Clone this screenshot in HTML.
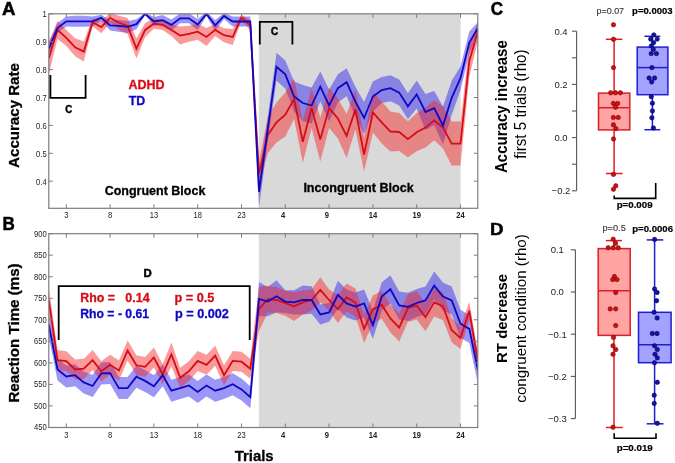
<!DOCTYPE html>
<html><head><meta charset="utf-8"><style>
html,body{margin:0;padding:0;background:#fff;width:675px;height:463px;overflow:hidden}
svg{display:block;filter:blur(0.35px);font-family:"Liberation Sans", sans-serif}
</style></head><body>
<svg width="675" height="463" viewBox="0 0 675 463">
<defs><clipPath id="ca"><rect x="48.8" y="13.8" width="429.0" height="194.5"/></clipPath>
<clipPath id="cb"><rect x="48.8" y="233.7" width="429.0" height="193.8"/></clipPath></defs>
<rect x="258.8" y="13.8" width="201.8" height="194.5" fill="#d9d9d9"/>
<rect x="258.8" y="233.7" width="201.8" height="193.8" fill="#d9d9d9"/>
<polygon points="48.8,42.6 57.5,23.1 66.3,16.4 75.1,15.8 83.8,15.8 92.6,16.4 101.3,14.8 110.1,20.4 118.9,19.8 127.6,20.9 136.4,19.2 145.1,12.9 153.9,17.0 162.7,15.1 171.4,19.4 180.2,13.3 188.9,13.3 197.7,19.1 206.5,11.9 215.2,19.9 224.0,13.0 232.7,16.5 241.5,16.5 250.3,16.5 259.0,175.8 267.8,117.0 276.5,52.7 285.3,60.4 294.1,81.5 302.8,85.0 311.6,87.5 320.3,71.6 329.1,89.5 337.9,74.2 346.6,68.2 355.4,86.7 364.1,102.0 372.9,81.5 381.7,77.0 390.4,75.2 399.2,79.6 407.9,93.3 416.7,80.4 425.5,94.0 434.2,91.1 443.0,106.5 451.7,80.8 460.5,66.2 469.3,31.5 478.0,21.9 478.0,33.9 469.3,53.5 460.5,90.2 451.7,114.8 443.0,144.5 434.2,125.1 425.5,130.0 416.7,108.4 407.9,119.3 399.2,105.6 390.4,101.2 381.7,103.0 372.9,111.5 364.1,134.0 355.4,116.7 346.6,96.2 337.9,102.2 329.1,121.5 320.3,101.6 311.6,123.5 302.8,121.0 294.1,111.5 285.3,88.4 276.5,80.7 267.8,141.0 259.0,207.8 250.3,26.5 241.5,26.5 232.7,26.5 224.0,19.0 215.2,30.9 206.5,15.9 197.7,30.1 188.9,23.3 180.2,23.3 171.4,30.4 162.7,25.1 153.9,26.0 145.1,14.9 136.4,29.2 127.6,32.9 118.9,31.8 110.1,30.4 101.3,20.8 92.6,26.4 83.8,26.8 75.1,26.8 66.3,26.4 57.5,33.1 48.8,54.6" fill="#3a30f0" fill-opacity="0.5" clip-path="url(#ca)"/>
<polygon points="48.8,42.3 57.5,20.9 66.3,29.9 75.1,38.3 83.8,41.6 92.6,18.2 101.3,21.2 110.1,12.8 118.9,15.8 127.6,18.0 136.4,38.6 145.1,22.9 153.9,18.7 162.7,19.9 171.4,23.9 180.2,26.6 188.9,25.8 197.7,23.7 206.5,28.0 215.2,23.9 224.0,28.2 232.7,29.0 241.5,14.4 250.3,20.4 259.0,161.6 267.8,117.0 276.5,102.4 285.3,92.6 294.1,79.0 302.8,120.8 311.6,88.1 320.3,117.6 329.1,88.1 337.9,98.5 346.6,114.0 355.4,89.4 364.1,137.5 372.9,92.5 381.7,101.4 390.4,111.5 399.2,113.0 407.9,121.2 416.7,113.2 425.5,107.6 434.2,100.3 443.0,106.6 451.7,121.6 460.5,121.6 469.3,45.0 478.0,22.0 478.0,40.0 469.3,77.0 460.5,165.6 451.7,165.6 443.0,148.6 434.2,140.3 425.5,147.6 416.7,151.2 407.9,157.2 399.2,151.0 390.4,151.5 381.7,143.4 372.9,132.5 364.1,171.5 355.4,129.4 346.6,158.0 337.9,138.5 329.1,128.1 320.3,161.6 311.6,128.1 302.8,162.8 294.1,119.0 285.3,136.6 276.5,142.4 267.8,153.0 259.0,185.6 250.3,30.4 241.5,20.4 232.7,45.0 224.0,42.2 215.2,35.9 206.5,46.0 197.7,39.7 188.9,41.8 180.2,44.6 171.4,35.9 162.7,29.9 153.9,28.7 145.1,36.9 136.4,58.6 127.6,34.0 118.9,29.8 110.1,22.8 101.3,33.2 92.6,26.2 83.8,61.6 75.1,56.3 66.3,45.9 57.5,38.9 48.8,74.3" fill="#f52020" fill-opacity="0.45" clip-path="url(#ca)"/>
<polyline points="48.8,58.3 57.5,29.9 66.3,37.9 75.1,47.3 83.8,51.6 92.6,22.2 101.3,27.2 110.1,17.8 118.9,22.8 127.6,26.0 136.4,48.6 145.1,29.9 153.9,23.7 162.7,24.9 171.4,29.9 180.2,35.6 188.9,33.8 197.7,31.7 206.5,37.0 215.2,29.9 224.0,35.2 232.7,37.0 241.5,17.4 250.3,25.4 259.0,173.6 267.8,135.0 276.5,122.4 285.3,114.6 294.1,99.0 302.8,141.8 311.6,108.1 320.3,139.6 329.1,108.1 337.9,118.5 346.6,136.0 355.4,109.4 364.1,154.5 372.9,112.5 381.7,122.4 390.4,131.5 399.2,132.0 407.9,139.2 416.7,132.2 425.5,127.6 434.2,120.3 443.0,127.6 451.7,143.6 460.5,143.6 469.3,61.0 478.0,31.0" fill="none" stroke="#d80c16" stroke-width="1.8" stroke-linejoin="miter" stroke-miterlimit="3" clip-path="url(#ca)"/>
<polyline points="48.8,48.6 57.5,28.1 66.3,21.4 75.1,21.3 83.8,21.3 92.6,21.4 101.3,17.8 110.1,25.4 118.9,25.8 127.6,26.9 136.4,24.2 145.1,13.9 153.9,21.5 162.7,20.1 171.4,24.9 180.2,18.3 188.9,18.3 197.7,24.6 206.5,13.9 215.2,25.4 224.0,16.0 232.7,21.5 241.5,21.5 250.3,21.5 259.0,191.8 267.8,129.0 276.5,66.7 285.3,74.4 294.1,96.5 302.8,103.0 311.6,105.5 320.3,86.6 329.1,105.5 337.9,88.2 346.6,82.2 355.4,101.7 364.1,118.0 372.9,96.5 381.7,90.0 390.4,88.2 399.2,92.6 407.9,106.3 416.7,94.4 425.5,112.0 434.2,108.1 443.0,125.5 451.7,97.8 460.5,78.2 469.3,42.5 478.0,27.9" fill="none" stroke="#0e08c4" stroke-width="1.8" stroke-linejoin="miter" stroke-miterlimit="3" clip-path="url(#ca)"/>
<polygon points="48.8,312.6 57.5,358.5 66.3,365.5 75.1,364.2 83.8,371.4 92.6,375.0 101.3,362.4 110.1,362.1 118.9,377.1 127.6,377.1 136.4,365.7 145.1,369.9 153.9,375.3 162.7,364.2 171.4,379.7 180.2,377.1 188.9,374.5 197.7,381.0 206.5,374.5 215.2,379.7 224.0,377.1 232.7,373.2 241.5,378.4 250.3,386.2 259.0,282.0 267.8,287.0 276.5,280.2 285.3,290.2 294.1,290.2 302.8,285.4 311.6,286.2 320.3,304.5 329.1,303.1 337.9,280.8 346.6,289.4 355.4,292.5 364.1,289.5 372.9,311.0 381.7,282.5 390.4,275.2 399.2,291.5 407.9,292.8 416.7,289.0 425.5,286.4 434.2,271.6 443.0,282.5 451.7,286.4 460.5,309.7 469.3,314.9 478.0,356.5 478.0,384.5 469.3,342.9 460.5,337.7 451.7,314.4 443.0,310.5 434.2,299.6 425.5,314.4 416.7,317.0 407.9,320.8 399.2,319.5 390.4,303.2 381.7,310.5 372.9,339.0 364.1,317.5 355.4,320.5 346.6,317.4 337.9,308.8 329.1,321.7 320.3,324.5 311.6,313.8 302.8,314.6 294.1,314.6 285.3,313.0 276.5,312.2 267.8,316.2 259.0,316.0 250.3,408.2 241.5,400.4 232.7,395.2 224.0,399.1 215.2,401.7 206.5,396.5 197.7,403.0 188.9,396.5 180.2,399.1 171.4,401.7 162.7,386.2 153.9,397.3 145.1,391.9 136.4,387.7 127.6,399.1 118.9,399.1 110.1,384.1 101.3,384.4 92.6,397.0 83.8,393.4 75.1,386.2 66.3,387.5 57.5,380.5 48.8,336.6" fill="#3a30f0" fill-opacity="0.5" clip-path="url(#cb)"/>
<polygon points="48.8,288.0 57.5,350.1 66.3,351.2 75.1,359.5 83.8,358.7 92.6,350.1 101.3,361.3 110.1,354.8 118.9,360.5 127.6,340.5 136.4,355.3 145.1,356.9 153.9,347.5 162.7,364.3 171.4,342.4 180.2,367.8 188.9,361.3 197.7,350.9 206.5,354.8 215.2,345.7 224.0,365.2 232.7,350.9 241.5,351.7 250.3,358.7 259.0,286.9 267.8,285.7 276.5,287.0 285.3,290.7 294.1,291.9 302.8,290.4 311.6,289.5 320.3,277.3 329.1,289.5 337.9,295.1 346.6,283.4 355.4,288.6 364.1,314.7 372.9,295.4 381.7,290.8 390.4,304.5 399.2,313.6 407.9,294.1 416.7,291.5 425.5,303.2 434.2,288.4 443.0,292.3 451.7,318.2 460.5,327.0 469.3,301.7 478.0,353.5 478.0,369.5 469.3,319.7 460.5,349.0 451.7,342.2 443.0,320.3 434.2,316.4 425.5,331.2 416.7,319.5 407.9,322.1 399.2,341.6 390.4,332.5 381.7,318.8 372.9,323.4 364.1,342.7 355.4,316.6 346.6,311.4 337.9,323.1 329.1,310.5 320.3,302.3 311.6,310.5 302.8,314.4 294.1,320.9 285.3,315.7 276.5,313.0 267.8,312.5 259.0,330.9 250.3,378.7 241.5,371.7 232.7,370.9 224.0,385.2 215.2,365.7 206.5,374.8 197.7,370.9 188.9,381.3 180.2,387.8 171.4,366.4 162.7,384.3 153.9,367.5 145.1,376.9 136.4,375.3 127.6,360.5 118.9,380.5 110.1,374.8 101.3,381.3 92.6,370.1 83.8,378.7 75.1,379.5 66.3,371.2 57.5,370.1 48.8,312.0" fill="#f52020" fill-opacity="0.45" clip-path="url(#cb)"/>
<polyline points="48.8,300.0 57.5,360.1 66.3,361.2 75.1,369.5 83.8,368.7 92.6,360.1 101.3,371.3 110.1,364.8 118.9,370.5 127.6,350.5 136.4,365.3 145.1,366.9 153.9,357.5 162.7,374.3 171.4,354.4 180.2,377.8 188.9,371.3 197.7,360.9 206.5,364.8 215.2,355.7 224.0,375.2 232.7,360.9 241.5,361.7 250.3,368.7 259.0,308.9 267.8,299.1 276.5,300.0 285.3,303.2 294.1,306.4 302.8,302.4 311.6,300.0 320.3,289.8 329.1,300.0 337.9,309.1 346.6,297.4 355.4,302.6 364.1,328.7 372.9,309.4 381.7,304.8 390.4,318.5 399.2,327.6 407.9,308.1 416.7,305.5 425.5,317.2 434.2,302.4 443.0,306.3 451.7,330.2 460.5,338.0 469.3,310.7 478.0,361.5" fill="none" stroke="#d80c16" stroke-width="1.8" stroke-linejoin="miter" stroke-miterlimit="3" clip-path="url(#cb)"/>
<polyline points="48.8,324.6 57.5,369.5 66.3,376.5 75.1,375.2 83.8,382.4 92.6,386.0 101.3,373.4 110.1,373.1 118.9,388.1 127.6,388.1 136.4,376.7 145.1,380.9 153.9,386.3 162.7,375.2 171.4,390.7 180.2,388.1 188.9,385.5 197.7,392.0 206.5,385.5 215.2,390.7 224.0,388.1 232.7,384.2 241.5,389.4 250.3,397.2 259.0,299.0 267.8,301.6 276.5,296.2 285.3,301.6 294.1,302.4 302.8,300.0 311.6,300.0 320.3,314.5 329.1,312.4 337.9,294.8 346.6,303.4 355.4,306.5 364.1,303.5 372.9,325.0 381.7,296.5 390.4,289.2 399.2,305.5 407.9,306.8 416.7,303.0 425.5,300.4 434.2,285.6 443.0,296.5 451.7,300.4 460.5,323.7 469.3,328.9 478.0,370.5" fill="none" stroke="#0e08c4" stroke-width="1.8" stroke-linejoin="miter" stroke-miterlimit="3" clip-path="url(#cb)"/>
<rect x="48.8" y="13.8" width="429.0" height="194.5" fill="none" stroke="#7d7d7d" stroke-width="1.2"/>
<rect x="48.8" y="233.7" width="429.0" height="193.8" fill="none" stroke="#7d7d7d" stroke-width="1.2"/>
<line x1="66.3" y1="208.3" x2="66.3" y2="204.3" stroke="#7d7d7d" stroke-width="1"/>
<line x1="66.3" y1="13.8" x2="66.3" y2="17.8" stroke="#7d7d7d" stroke-width="1"/>
<line x1="110.1" y1="208.3" x2="110.1" y2="204.3" stroke="#7d7d7d" stroke-width="1"/>
<line x1="110.1" y1="13.8" x2="110.1" y2="17.8" stroke="#7d7d7d" stroke-width="1"/>
<line x1="153.9" y1="208.3" x2="153.9" y2="204.3" stroke="#7d7d7d" stroke-width="1"/>
<line x1="153.9" y1="13.8" x2="153.9" y2="17.8" stroke="#7d7d7d" stroke-width="1"/>
<line x1="197.7" y1="208.3" x2="197.7" y2="204.3" stroke="#7d7d7d" stroke-width="1"/>
<line x1="197.7" y1="13.8" x2="197.7" y2="17.8" stroke="#7d7d7d" stroke-width="1"/>
<line x1="241.5" y1="208.3" x2="241.5" y2="204.3" stroke="#7d7d7d" stroke-width="1"/>
<line x1="241.5" y1="13.8" x2="241.5" y2="17.8" stroke="#7d7d7d" stroke-width="1"/>
<line x1="285.3" y1="208.3" x2="285.3" y2="204.3" stroke="#7d7d7d" stroke-width="1"/>
<line x1="285.3" y1="13.8" x2="285.3" y2="17.8" stroke="#7d7d7d" stroke-width="1"/>
<line x1="329.1" y1="208.3" x2="329.1" y2="204.3" stroke="#7d7d7d" stroke-width="1"/>
<line x1="329.1" y1="13.8" x2="329.1" y2="17.8" stroke="#7d7d7d" stroke-width="1"/>
<line x1="372.9" y1="208.3" x2="372.9" y2="204.3" stroke="#7d7d7d" stroke-width="1"/>
<line x1="372.9" y1="13.8" x2="372.9" y2="17.8" stroke="#7d7d7d" stroke-width="1"/>
<line x1="416.7" y1="208.3" x2="416.7" y2="204.3" stroke="#7d7d7d" stroke-width="1"/>
<line x1="416.7" y1="13.8" x2="416.7" y2="17.8" stroke="#7d7d7d" stroke-width="1"/>
<line x1="460.5" y1="208.3" x2="460.5" y2="204.3" stroke="#7d7d7d" stroke-width="1"/>
<line x1="460.5" y1="13.8" x2="460.5" y2="17.8" stroke="#7d7d7d" stroke-width="1"/>
<text transform="translate(66.30,217.90) scale(0.93,1)" font-size="8.2" text-anchor="middle" fill="#222">3</text>
<text transform="translate(110.10,217.90) scale(0.93,1)" font-size="8.2" text-anchor="middle" fill="#222">8</text>
<text transform="translate(153.90,217.90) scale(0.93,1)" font-size="8.2" text-anchor="middle" fill="#222">13</text>
<text transform="translate(197.70,217.90) scale(0.93,1)" font-size="8.2" text-anchor="middle" fill="#222">18</text>
<text transform="translate(241.50,217.90) scale(0.93,1)" font-size="8.2" text-anchor="middle" fill="#222">23</text>
<text transform="translate(283.10,217.90) scale(0.93,1)" font-size="8.2" text-anchor="middle" fill="#222" font-weight="bold">4</text>
<text transform="translate(326.90,217.90) scale(0.93,1)" font-size="8.2" text-anchor="middle" fill="#222" font-weight="bold">9</text>
<text transform="translate(372.90,217.90) scale(0.93,1)" font-size="8.2" text-anchor="middle" fill="#222" font-weight="bold">14</text>
<text transform="translate(416.70,217.90) scale(0.93,1)" font-size="8.2" text-anchor="middle" fill="#222" font-weight="bold">19</text>
<text transform="translate(460.50,217.90) scale(0.93,1)" font-size="8.2" text-anchor="middle" fill="#222" font-weight="bold">24</text>
<line x1="66.3" y1="427.5" x2="66.3" y2="423.5" stroke="#7d7d7d" stroke-width="1"/>
<line x1="66.3" y1="233.7" x2="66.3" y2="237.7" stroke="#7d7d7d" stroke-width="1"/>
<line x1="110.1" y1="427.5" x2="110.1" y2="423.5" stroke="#7d7d7d" stroke-width="1"/>
<line x1="110.1" y1="233.7" x2="110.1" y2="237.7" stroke="#7d7d7d" stroke-width="1"/>
<line x1="153.9" y1="427.5" x2="153.9" y2="423.5" stroke="#7d7d7d" stroke-width="1"/>
<line x1="153.9" y1="233.7" x2="153.9" y2="237.7" stroke="#7d7d7d" stroke-width="1"/>
<line x1="197.7" y1="427.5" x2="197.7" y2="423.5" stroke="#7d7d7d" stroke-width="1"/>
<line x1="197.7" y1="233.7" x2="197.7" y2="237.7" stroke="#7d7d7d" stroke-width="1"/>
<line x1="241.5" y1="427.5" x2="241.5" y2="423.5" stroke="#7d7d7d" stroke-width="1"/>
<line x1="241.5" y1="233.7" x2="241.5" y2="237.7" stroke="#7d7d7d" stroke-width="1"/>
<line x1="285.3" y1="427.5" x2="285.3" y2="423.5" stroke="#7d7d7d" stroke-width="1"/>
<line x1="285.3" y1="233.7" x2="285.3" y2="237.7" stroke="#7d7d7d" stroke-width="1"/>
<line x1="329.1" y1="427.5" x2="329.1" y2="423.5" stroke="#7d7d7d" stroke-width="1"/>
<line x1="329.1" y1="233.7" x2="329.1" y2="237.7" stroke="#7d7d7d" stroke-width="1"/>
<line x1="372.9" y1="427.5" x2="372.9" y2="423.5" stroke="#7d7d7d" stroke-width="1"/>
<line x1="372.9" y1="233.7" x2="372.9" y2="237.7" stroke="#7d7d7d" stroke-width="1"/>
<line x1="416.7" y1="427.5" x2="416.7" y2="423.5" stroke="#7d7d7d" stroke-width="1"/>
<line x1="416.7" y1="233.7" x2="416.7" y2="237.7" stroke="#7d7d7d" stroke-width="1"/>
<line x1="460.5" y1="427.5" x2="460.5" y2="423.5" stroke="#7d7d7d" stroke-width="1"/>
<line x1="460.5" y1="233.7" x2="460.5" y2="237.7" stroke="#7d7d7d" stroke-width="1"/>
<text transform="translate(66.30,438.00) scale(0.93,1)" font-size="8.2" text-anchor="middle" fill="#222">3</text>
<text transform="translate(110.10,438.00) scale(0.93,1)" font-size="8.2" text-anchor="middle" fill="#222">8</text>
<text transform="translate(153.90,438.00) scale(0.93,1)" font-size="8.2" text-anchor="middle" fill="#222">13</text>
<text transform="translate(197.70,438.00) scale(0.93,1)" font-size="8.2" text-anchor="middle" fill="#222">18</text>
<text transform="translate(241.50,438.00) scale(0.93,1)" font-size="8.2" text-anchor="middle" fill="#222">23</text>
<text transform="translate(283.10,438.00) scale(0.93,1)" font-size="8.2" text-anchor="middle" fill="#222" font-weight="bold">4</text>
<text transform="translate(326.90,438.00) scale(0.93,1)" font-size="8.2" text-anchor="middle" fill="#222" font-weight="bold">9</text>
<text transform="translate(372.90,438.00) scale(0.93,1)" font-size="8.2" text-anchor="middle" fill="#222" font-weight="bold">14</text>
<text transform="translate(416.70,438.00) scale(0.93,1)" font-size="8.2" text-anchor="middle" fill="#222" font-weight="bold">19</text>
<text transform="translate(460.50,438.00) scale(0.93,1)" font-size="8.2" text-anchor="middle" fill="#222" font-weight="bold">24</text>
<line x1="48.8" y1="13.8" x2="52.8" y2="13.8" stroke="#7d7d7d"/>
<line x1="477.8" y1="13.8" x2="473.8" y2="13.8" stroke="#7d7d7d"/>
<text transform="translate(46.70,17.20) scale(0.93,1)" font-size="8.2" text-anchor="end" fill="#222">1</text>
<line x1="48.8" y1="41.7" x2="52.8" y2="41.7" stroke="#7d7d7d"/>
<line x1="477.8" y1="41.7" x2="473.8" y2="41.7" stroke="#7d7d7d"/>
<text transform="translate(46.70,45.10) scale(0.93,1)" font-size="8.2" text-anchor="end" fill="#222">0.9</text>
<line x1="48.8" y1="69.6" x2="52.8" y2="69.6" stroke="#7d7d7d"/>
<line x1="477.8" y1="69.6" x2="473.8" y2="69.6" stroke="#7d7d7d"/>
<text transform="translate(46.70,73.00) scale(0.93,1)" font-size="8.2" text-anchor="end" fill="#222">0.8</text>
<line x1="48.8" y1="97.5" x2="52.8" y2="97.5" stroke="#7d7d7d"/>
<line x1="477.8" y1="97.5" x2="473.8" y2="97.5" stroke="#7d7d7d"/>
<text transform="translate(46.70,100.90) scale(0.93,1)" font-size="8.2" text-anchor="end" fill="#222">0.7</text>
<line x1="48.8" y1="125.4" x2="52.8" y2="125.4" stroke="#7d7d7d"/>
<line x1="477.8" y1="125.4" x2="473.8" y2="125.4" stroke="#7d7d7d"/>
<text transform="translate(46.70,128.80) scale(0.93,1)" font-size="8.2" text-anchor="end" fill="#222">0.6</text>
<line x1="48.8" y1="153.3" x2="52.8" y2="153.3" stroke="#7d7d7d"/>
<line x1="477.8" y1="153.3" x2="473.8" y2="153.3" stroke="#7d7d7d"/>
<text transform="translate(46.70,156.70) scale(0.93,1)" font-size="8.2" text-anchor="end" fill="#222">0.5</text>
<line x1="48.8" y1="181.2" x2="52.8" y2="181.2" stroke="#7d7d7d"/>
<line x1="477.8" y1="181.2" x2="473.8" y2="181.2" stroke="#7d7d7d"/>
<text transform="translate(46.70,184.60) scale(0.93,1)" font-size="8.2" text-anchor="end" fill="#222">0.4</text>
<line x1="48.8" y1="233.7" x2="52.8" y2="233.7" stroke="#7d7d7d"/>
<line x1="477.8" y1="233.7" x2="473.8" y2="233.7" stroke="#7d7d7d"/>
<text transform="translate(46.70,236.60) scale(0.93,1)" font-size="8.2" text-anchor="end" fill="#222">900</text>
<line x1="48.8" y1="255.2" x2="52.8" y2="255.2" stroke="#7d7d7d"/>
<line x1="477.8" y1="255.2" x2="473.8" y2="255.2" stroke="#7d7d7d"/>
<text transform="translate(46.70,258.13) scale(0.93,1)" font-size="8.2" text-anchor="end" fill="#222">850</text>
<line x1="48.8" y1="276.8" x2="52.8" y2="276.8" stroke="#7d7d7d"/>
<line x1="477.8" y1="276.8" x2="473.8" y2="276.8" stroke="#7d7d7d"/>
<text transform="translate(46.70,279.66) scale(0.93,1)" font-size="8.2" text-anchor="end" fill="#222">800</text>
<line x1="48.8" y1="298.3" x2="52.8" y2="298.3" stroke="#7d7d7d"/>
<line x1="477.8" y1="298.3" x2="473.8" y2="298.3" stroke="#7d7d7d"/>
<text transform="translate(46.70,301.19) scale(0.93,1)" font-size="8.2" text-anchor="end" fill="#222">750</text>
<line x1="48.8" y1="319.8" x2="52.8" y2="319.8" stroke="#7d7d7d"/>
<line x1="477.8" y1="319.8" x2="473.8" y2="319.8" stroke="#7d7d7d"/>
<text transform="translate(46.70,322.72) scale(0.93,1)" font-size="8.2" text-anchor="end" fill="#222">700</text>
<line x1="48.8" y1="341.4" x2="52.8" y2="341.4" stroke="#7d7d7d"/>
<line x1="477.8" y1="341.4" x2="473.8" y2="341.4" stroke="#7d7d7d"/>
<text transform="translate(46.70,344.25) scale(0.93,1)" font-size="8.2" text-anchor="end" fill="#222">650</text>
<line x1="48.8" y1="362.9" x2="52.8" y2="362.9" stroke="#7d7d7d"/>
<line x1="477.8" y1="362.9" x2="473.8" y2="362.9" stroke="#7d7d7d"/>
<text transform="translate(46.70,365.78) scale(0.93,1)" font-size="8.2" text-anchor="end" fill="#222">600</text>
<line x1="48.8" y1="384.4" x2="52.8" y2="384.4" stroke="#7d7d7d"/>
<line x1="477.8" y1="384.4" x2="473.8" y2="384.4" stroke="#7d7d7d"/>
<text transform="translate(46.70,387.31) scale(0.93,1)" font-size="8.2" text-anchor="end" fill="#222">550</text>
<line x1="48.8" y1="405.9" x2="52.8" y2="405.9" stroke="#7d7d7d"/>
<line x1="477.8" y1="405.9" x2="473.8" y2="405.9" stroke="#7d7d7d"/>
<text transform="translate(46.70,408.84) scale(0.93,1)" font-size="8.2" text-anchor="end" fill="#222">500</text>
<line x1="48.8" y1="427.5" x2="52.8" y2="427.5" stroke="#7d7d7d"/>
<line x1="477.8" y1="427.5" x2="473.8" y2="427.5" stroke="#7d7d7d"/>
<text transform="translate(46.70,430.37) scale(0.93,1)" font-size="8.2" text-anchor="end" fill="#222">450</text>
<path d="M50.4,74.9 V97.8 H85.6 V74.9" fill="none" stroke="#000" stroke-width="1.8"/>
<text transform="translate(65.32,113.00) scale(0.8849,1)" font-size="10.87" font-weight="bold" fill="#000" stroke="#000" stroke-width="0.5" xml:space="preserve">C</text>
<path d="M259.8,44.6 V21.9 H292.4 V44.6" fill="none" stroke="#000" stroke-width="1.8"/>
<text transform="translate(271.00,34.60) scale(0.9782,1)" font-size="10.14" font-weight="bold" fill="#000" stroke="#000" stroke-width="0.5" xml:space="preserve">C</text>
<path d="M58.7,340 V286.1 H249.7 V340" fill="none" stroke="#000" stroke-width="1.8"/>
<text transform="translate(143.56,276.70) scale(1.0472,1)" font-size="10.87" font-weight="bold" fill="#000" stroke="#000" stroke-width="0.5" xml:space="preserve">D</text>
<text transform="translate(128.49,89.00) scale(1.0282,1)" font-size="12.17" font-weight="bold" fill="#d80c16" stroke="#d80c16" stroke-width="0.3" xml:space="preserve">ADHD</text>
<text transform="translate(128.68,104.60) scale(1.0204,1)" font-size="12.17" font-weight="bold" fill="#0e08c4" stroke="#0e08c4" stroke-width="0.3" xml:space="preserve">TD</text>
<text transform="translate(104.70,194.60) scale(1.0279,1)" font-size="12.17" font-weight="bold" fill="#000" stroke="#000" stroke-width="0.3" xml:space="preserve">Congruent Block</text>
<text transform="translate(303.38,192.20) scale(1.0336,1)" font-size="12.17" font-weight="bold" fill="#000" stroke="#000" stroke-width="0.3" xml:space="preserve">Incongruent Block</text>
<text transform="translate(80.19,302.00) scale(0.9840,1)" font-size="12.61" font-weight="bold" fill="#d80c16" stroke="#d80c16" stroke-width="0.3" xml:space="preserve">Rho =</text>
<text transform="translate(125.30,302.00) scale(0.9893,1)" font-size="12.61" font-weight="bold" fill="#d80c16" stroke="#d80c16" stroke-width="0.3" xml:space="preserve">0.14</text>
<text transform="translate(174.47,302.00) scale(1.0089,1)" font-size="12.61" font-weight="bold" fill="#d80c16" stroke="#d80c16" stroke-width="0.3" xml:space="preserve">p = 0.5</text>
<text transform="translate(80.20,317.60) scale(0.9931,1)" font-size="12.32" font-weight="bold" fill="#0e08c4" stroke="#0e08c4" stroke-width="0.3" xml:space="preserve">Rho = - 0.61</text>
<text transform="translate(174.98,317.60) scale(1.0282,1)" font-size="12.32" font-weight="bold" fill="#0e08c4" stroke="#0e08c4" stroke-width="0.3" xml:space="preserve">p = 0.002</text>
<text transform="translate(234.65,460.70) scale(0.9623,1)" font-size="15.51" font-weight="bold" fill="#000" stroke="#000" stroke-width="0.3" xml:space="preserve">Trials</text>
<text transform="translate(19.40,167.88) rotate(-90) scale(1.0109,1)" font-size="14.93" font-weight="bold" fill="#000" stroke="#000" stroke-width="0.3" xml:space="preserve">Accuracy Rate</text>
<text transform="translate(19.30,402.58) rotate(-90) scale(1.0142,1)" font-size="14.93" font-weight="bold" fill="#000" stroke="#000" stroke-width="0.3" xml:space="preserve">Reaction Time (ms)</text>
<text transform="translate(1.93,14.90) scale(1.0466,1)" font-size="17.83" font-weight="bold" fill="#000" stroke="#000" stroke-width="0.5" xml:space="preserve">A</text>
<text transform="translate(2.59,230.00) scale(0.9722,1)" font-size="17.54" font-weight="bold" fill="#000" stroke="#000" stroke-width="0.5" xml:space="preserve">B</text>
<text transform="translate(490.72,15.20) scale(0.9592,1)" font-size="17.83" font-weight="bold" fill="#000" stroke="#000" stroke-width="0.5" xml:space="preserve">C</text>
<text transform="translate(489.88,235.10) scale(1.0752,1)" font-size="17.39" font-weight="bold" fill="#000" stroke="#000" stroke-width="0.5" xml:space="preserve">D</text>
<line x1="576.6" y1="31.19999999999999" x2="576.6" y2="190.8" stroke="#555" stroke-width="1.1"/>
<line x1="572.0" y1="31.19999999999999" x2="576.6" y2="31.19999999999999" stroke="#555" stroke-width="1.1"/>
<line x1="572.0" y1="57.8" x2="576.6" y2="57.8" stroke="#555" stroke-width="1.1"/>
<line x1="572.0" y1="84.39999999999999" x2="576.6" y2="84.39999999999999" stroke="#555" stroke-width="1.1"/>
<line x1="572.0" y1="111.0" x2="576.6" y2="111.0" stroke="#555" stroke-width="1.1"/>
<line x1="572.0" y1="137.6" x2="576.6" y2="137.6" stroke="#555" stroke-width="1.1"/>
<line x1="572.0" y1="164.2" x2="576.6" y2="164.2" stroke="#555" stroke-width="1.1"/>
<line x1="572.0" y1="190.8" x2="576.6" y2="190.8" stroke="#555" stroke-width="1.1"/>
<text x="561" y="34.5" font-size="9.5" text-anchor="middle" fill="#222">0.4</text>
<text x="561" y="87.7" font-size="9.5" text-anchor="middle" fill="#222">0.2</text>
<text x="561" y="140.9" font-size="9.5" text-anchor="middle" fill="#222">0.0</text>
<text x="561" y="194.2" font-size="9.5" text-anchor="middle" fill="#222">−0.2</text>
<line x1="614.1" y1="39.3" x2="614.1" y2="173.5" stroke="#dc1e26" stroke-width="1.5"/>
<line x1="605.9" y1="39.3" x2="622.3" y2="39.3" stroke="#dc1e26" stroke-width="1.5"/>
<line x1="606" y1="173.5" x2="622.6" y2="173.5" stroke="#dc1e26" stroke-width="1.5"/>
<rect x="598.5" y="93.1" width="31.299999999999955" height="36.80000000000001" fill="#ffa3a3" stroke="#dc1e26" stroke-width="1.5"/>
<line x1="598.5" y1="107.7" x2="629.8" y2="107.7" stroke="#dc1e26" stroke-width="1.5"/>
<circle cx="613.5" cy="24.8" r="2.2" fill="#c81414" stroke="#8c0000" stroke-width="0.6"/>
<circle cx="613.5" cy="39.3" r="2.2" fill="#c81414" stroke="#8c0000" stroke-width="0.6"/>
<circle cx="613.5" cy="67.6" r="2.2" fill="#c81414" stroke="#8c0000" stroke-width="0.6"/>
<circle cx="610.7" cy="92.8" r="2.2" fill="#c81414" stroke="#8c0000" stroke-width="0.6"/>
<circle cx="615.5" cy="92.8" r="2.2" fill="#c81414" stroke="#8c0000" stroke-width="0.6"/>
<circle cx="620.4" cy="92.8" r="2.2" fill="#c81414" stroke="#8c0000" stroke-width="0.6"/>
<circle cx="613.4" cy="103.4" r="2.2" fill="#c81414" stroke="#8c0000" stroke-width="0.6"/>
<circle cx="617.7" cy="103.4" r="2.2" fill="#c81414" stroke="#8c0000" stroke-width="0.6"/>
<circle cx="615.5" cy="107.2" r="2.2" fill="#c81414" stroke="#8c0000" stroke-width="0.6"/>
<circle cx="613.4" cy="117.4" r="2.2" fill="#c81414" stroke="#8c0000" stroke-width="0.6"/>
<circle cx="618.2" cy="117.4" r="2.2" fill="#c81414" stroke="#8c0000" stroke-width="0.6"/>
<circle cx="613.4" cy="124.8" r="2.2" fill="#c81414" stroke="#8c0000" stroke-width="0.6"/>
<circle cx="615.8" cy="128.5" r="2.2" fill="#c81414" stroke="#8c0000" stroke-width="0.6"/>
<circle cx="613.5" cy="139" r="2.2" fill="#c81414" stroke="#8c0000" stroke-width="0.6"/>
<circle cx="613.5" cy="174.4" r="2.2" fill="#c81414" stroke="#8c0000" stroke-width="0.6"/>
<circle cx="615.8" cy="185.8" r="2.2" fill="#c81414" stroke="#8c0000" stroke-width="0.6"/>
<circle cx="613.5" cy="189.2" r="2.2" fill="#c81414" stroke="#8c0000" stroke-width="0.6"/>
<line x1="652.4" y1="36.3" x2="652.4" y2="129.7" stroke="#1e1ed2" stroke-width="1.5"/>
<line x1="644.4" y1="36.3" x2="660.3" y2="36.3" stroke="#1e1ed2" stroke-width="1.5"/>
<line x1="644.4" y1="129.7" x2="660.3" y2="129.7" stroke="#1e1ed2" stroke-width="1.5"/>
<rect x="637.2" y="47.1" width="30.699999999999932" height="47.6" fill="#a3a3ff" stroke="#1e1ed2" stroke-width="1.5"/>
<line x1="637.2" y1="67.6" x2="667.9" y2="67.6" stroke="#1e1ed2" stroke-width="1.5"/>
<circle cx="653.8" cy="34.9" r="2.2" fill="#1414a0" stroke="#00006e" stroke-width="0.6"/>
<circle cx="650.7" cy="39.1" r="2.2" fill="#1414a0" stroke="#00006e" stroke-width="0.6"/>
<circle cx="657.2" cy="39.1" r="2.2" fill="#1414a0" stroke="#00006e" stroke-width="0.6"/>
<circle cx="653.6" cy="42.6" r="2.2" fill="#1414a0" stroke="#00006e" stroke-width="0.6"/>
<circle cx="651.3" cy="45.9" r="2.2" fill="#1414a0" stroke="#00006e" stroke-width="0.6"/>
<circle cx="653.3" cy="49.4" r="2.2" fill="#1414a0" stroke="#00006e" stroke-width="0.6"/>
<circle cx="651.2" cy="53.6" r="2.2" fill="#1414a0" stroke="#00006e" stroke-width="0.6"/>
<circle cx="656.4" cy="53.6" r="2.2" fill="#1414a0" stroke="#00006e" stroke-width="0.6"/>
<circle cx="651.9" cy="67.6" r="2.2" fill="#1414a0" stroke="#00006e" stroke-width="0.6"/>
<circle cx="649.1" cy="78" r="2.2" fill="#1414a0" stroke="#00006e" stroke-width="0.6"/>
<circle cx="654.6" cy="78" r="2.2" fill="#1414a0" stroke="#00006e" stroke-width="0.6"/>
<circle cx="651.7" cy="81.9" r="2.2" fill="#1414a0" stroke="#00006e" stroke-width="0.6"/>
<circle cx="651.3" cy="96.7" r="2.2" fill="#1414a0" stroke="#00006e" stroke-width="0.6"/>
<circle cx="652.4" cy="103.3" r="2.2" fill="#1414a0" stroke="#00006e" stroke-width="0.6"/>
<circle cx="652.4" cy="110.9" r="2.2" fill="#1414a0" stroke="#00006e" stroke-width="0.6"/>
<circle cx="651.9" cy="117.8" r="2.2" fill="#1414a0" stroke="#00006e" stroke-width="0.6"/>
<circle cx="653.4" cy="128" r="2.2" fill="#1414a0" stroke="#00006e" stroke-width="0.6"/>
<text transform="translate(596.62,13.70) scale(1.0575,1)" font-size="8.41"  fill="#3a3a3a" stroke="#3a3a3a" stroke-width="0.15" xml:space="preserve">p=0.07</text>
<text transform="translate(632.08,14.00) scale(1.1159,1)" font-size="8.55" font-weight="bold" fill="#000" stroke="#000" stroke-width="0.2" xml:space="preserve">p=0.0003</text>
<path d="M614.2,195.5 V198.4 H655.7 V183" fill="none" stroke="#000" stroke-width="1.6"/>
<text transform="translate(616.67,207.70) scale(1.1549,1)" font-size="8.41" font-weight="bold" fill="#000" stroke="#000" stroke-width="0.2" xml:space="preserve">p=0.009</text>
<text transform="translate(507.20,172.98) rotate(-90) scale(0.9612,1)" font-size="15.65" font-weight="bold" fill="#000"  xml:space="preserve">Accuracy increase</text>
<text transform="translate(526.10,158.83) rotate(-90) scale(0.9684,1)" font-size="15.65"  fill="#000"  xml:space="preserve">first 5 trials (rho)</text>
<line x1="575.4" y1="249.8" x2="575.4" y2="418.6" stroke="#555" stroke-width="1.1"/>
<line x1="570.8" y1="249.8" x2="575.4" y2="249.8" stroke="#555" stroke-width="1.1"/>
<line x1="570.8" y1="292.0" x2="575.4" y2="292.0" stroke="#555" stroke-width="1.1"/>
<line x1="570.8" y1="334.2" x2="575.4" y2="334.2" stroke="#555" stroke-width="1.1"/>
<line x1="570.8" y1="376.4" x2="575.4" y2="376.4" stroke="#555" stroke-width="1.1"/>
<line x1="570.8" y1="418.6" x2="575.4" y2="418.6" stroke="#555" stroke-width="1.1"/>
<text x="557.3" y="253.2" font-size="9.5" text-anchor="middle" fill="#222">0.1</text>
<text x="557.3" y="295.4" font-size="9.5" text-anchor="middle" fill="#222">0.0</text>
<text x="557.3" y="337.6" font-size="9.5" text-anchor="middle" fill="#222">−0.1</text>
<text x="557.3" y="379.8" font-size="9.5" text-anchor="middle" fill="#222">−0.2</text>
<text x="557.3" y="422.0" font-size="9.5" text-anchor="middle" fill="#222">−0.3</text>
<line x1="614" y1="240.6" x2="614" y2="427.5" stroke="#dc1e26" stroke-width="1.5"/>
<line x1="605.8" y1="240.6" x2="621.9" y2="240.6" stroke="#dc1e26" stroke-width="1.5"/>
<line x1="606" y1="427.5" x2="622.8" y2="427.5" stroke="#dc1e26" stroke-width="1.5"/>
<rect x="598.2" y="248.6" width="32.0" height="86.79999999999998" fill="#ffa3a3" stroke="#dc1e26" stroke-width="1.5"/>
<line x1="598.2" y1="290.8" x2="630.2" y2="290.8" stroke="#dc1e26" stroke-width="1.5"/>
<circle cx="613.2" cy="239.1" r="2.2" fill="#c81414" stroke="#8c0000" stroke-width="0.6"/>
<circle cx="615.5" cy="243.3" r="2.2" fill="#c81414" stroke="#8c0000" stroke-width="0.6"/>
<circle cx="608.2" cy="247.8" r="2.2" fill="#c81414" stroke="#8c0000" stroke-width="0.6"/>
<circle cx="613.2" cy="247.8" r="2.2" fill="#c81414" stroke="#8c0000" stroke-width="0.6"/>
<circle cx="618.2" cy="247.8" r="2.2" fill="#c81414" stroke="#8c0000" stroke-width="0.6"/>
<circle cx="614.4" cy="276.4" r="2.2" fill="#c81414" stroke="#8c0000" stroke-width="0.6"/>
<circle cx="612.7" cy="279.6" r="2.2" fill="#c81414" stroke="#8c0000" stroke-width="0.6"/>
<circle cx="617" cy="279.6" r="2.2" fill="#c81414" stroke="#8c0000" stroke-width="0.6"/>
<circle cx="615.7" cy="292.5" r="2.2" fill="#c81414" stroke="#8c0000" stroke-width="0.6"/>
<circle cx="610.2" cy="308.9" r="2.2" fill="#c81414" stroke="#8c0000" stroke-width="0.6"/>
<circle cx="615.7" cy="308.9" r="2.2" fill="#c81414" stroke="#8c0000" stroke-width="0.6"/>
<circle cx="615.7" cy="325.5" r="2.2" fill="#c81414" stroke="#8c0000" stroke-width="0.6"/>
<circle cx="613.5" cy="337.4" r="2.2" fill="#c81414" stroke="#8c0000" stroke-width="0.6"/>
<circle cx="613" cy="345.8" r="2.2" fill="#c81414" stroke="#8c0000" stroke-width="0.6"/>
<circle cx="615.8" cy="349.5" r="2.2" fill="#c81414" stroke="#8c0000" stroke-width="0.6"/>
<circle cx="613" cy="354.2" r="2.2" fill="#c81414" stroke="#8c0000" stroke-width="0.6"/>
<circle cx="613" cy="427.2" r="2.2" fill="#c81414" stroke="#8c0000" stroke-width="0.6"/>
<line x1="654.6" y1="239.9" x2="654.6" y2="423.8" stroke="#1e1ed2" stroke-width="1.5"/>
<line x1="646.7" y1="239.9" x2="663.3" y2="239.9" stroke="#1e1ed2" stroke-width="1.5"/>
<line x1="646.6" y1="423.8" x2="663.5" y2="423.8" stroke="#1e1ed2" stroke-width="1.5"/>
<rect x="638.5" y="312.3" width="32.60000000000002" height="50.39999999999998" fill="#a3a3ff" stroke="#1e1ed2" stroke-width="1.5"/>
<line x1="638.5" y1="344.7" x2="671.1" y2="344.7" stroke="#1e1ed2" stroke-width="1.5"/>
<circle cx="654.6" cy="239.4" r="2.2" fill="#1414a0" stroke="#00006e" stroke-width="0.6"/>
<circle cx="654.6" cy="289" r="2.2" fill="#1414a0" stroke="#00006e" stroke-width="0.6"/>
<circle cx="657.1" cy="292.5" r="2.2" fill="#1414a0" stroke="#00006e" stroke-width="0.6"/>
<circle cx="656.6" cy="300.7" r="2.2" fill="#1414a0" stroke="#00006e" stroke-width="0.6"/>
<circle cx="654.1" cy="312.3" r="2.2" fill="#1414a0" stroke="#00006e" stroke-width="0.6"/>
<circle cx="657.1" cy="318" r="2.2" fill="#1414a0" stroke="#00006e" stroke-width="0.6"/>
<circle cx="652.3" cy="333.5" r="2.2" fill="#1414a0" stroke="#00006e" stroke-width="0.6"/>
<circle cx="657" cy="333.5" r="2.2" fill="#1414a0" stroke="#00006e" stroke-width="0.6"/>
<circle cx="654.5" cy="345.8" r="2.2" fill="#1414a0" stroke="#00006e" stroke-width="0.6"/>
<circle cx="657.3" cy="349.5" r="2.2" fill="#1414a0" stroke="#00006e" stroke-width="0.6"/>
<circle cx="655" cy="354.2" r="2.2" fill="#1414a0" stroke="#00006e" stroke-width="0.6"/>
<circle cx="657.3" cy="357.9" r="2.2" fill="#1414a0" stroke="#00006e" stroke-width="0.6"/>
<circle cx="654.5" cy="362.7" r="2.2" fill="#1414a0" stroke="#00006e" stroke-width="0.6"/>
<circle cx="657.3" cy="382.3" r="2.2" fill="#1414a0" stroke="#00006e" stroke-width="0.6"/>
<circle cx="654.2" cy="395.2" r="2.2" fill="#1414a0" stroke="#00006e" stroke-width="0.6"/>
<circle cx="654.2" cy="403.4" r="2.2" fill="#1414a0" stroke="#00006e" stroke-width="0.6"/>
<circle cx="657.3" cy="423.3" r="2.2" fill="#1414a0" stroke="#00006e" stroke-width="0.6"/>
<text transform="translate(602.50,231.40) scale(1.1132,1)" font-size="8.26"  fill="#3a3a3a" stroke="#3a3a3a" stroke-width="0.15" xml:space="preserve">p=0.5</text>
<text transform="translate(632.18,231.50) scale(1.1244,1)" font-size="8.55" font-weight="bold" fill="#000" stroke="#000" stroke-width="0.2" xml:space="preserve">p=0.0006</text>
<path d="M614.2,433.3 V438.3 H656 V433.3" fill="none" stroke="#000" stroke-width="1.6"/>
<text transform="translate(616.67,450.80) scale(1.1615,1)" font-size="8.41" font-weight="bold" fill="#000" stroke="#000" stroke-width="0.2" xml:space="preserve">p=0.019</text>
<text transform="translate(507.30,362.97) rotate(-90) scale(1.0661,1)" font-size="14.06" font-weight="bold" fill="#000"  xml:space="preserve">RT decrease</text>
<text transform="translate(526.10,402.68) rotate(-90) scale(0.9781,1)" font-size="15.51"  fill="#000"  xml:space="preserve">congruent condition (rho)</text>
</svg></body></html>
